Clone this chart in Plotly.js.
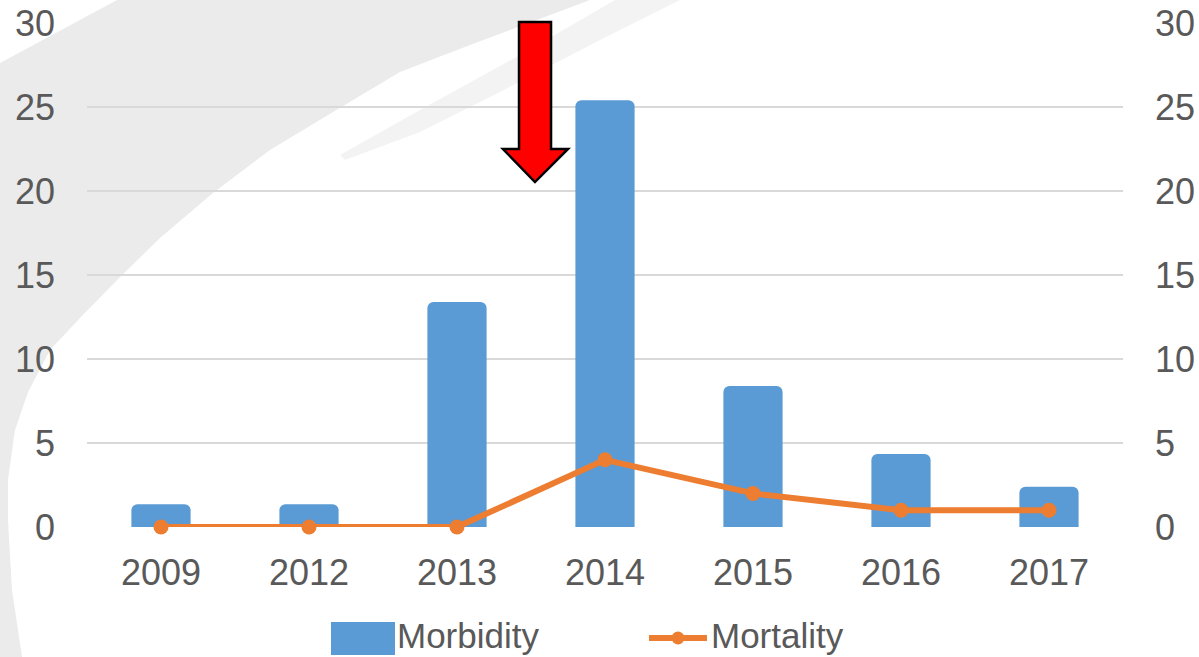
<!DOCTYPE html>
<html>
<head>
<meta charset="utf-8">
<script src="https://cdn.plot.ly/plotly-3.0.1.min.js"></script>
<style>html,body{margin:0;padding:0;background:#fff;}#chart{width:1199px;height:657px;}</style>
</head>
<body>
<div id="chart"></div>
<script>
// ---- data ----
const years = ["2009", "2012", "2013", "2014", "2015", "2016", "2017"];
const morbidity = [1.35, 1.35, 13.4, 25.4, 8.4, 4.35, 2.4];
const mortality = [0, 0, 0, 4, 2, 1, 1];
const yTicks = [0, 5, 10, 15, 20, 25, 30];
const seriesNames = ["Morbidity", "Mortality"];

// ---- layout geometry (pixels) ----
const W = 1199, H = 657;
const M = {l: 87, r: 76, t: 23, b: 130};
const PW = W - M.l - M.r, PH = H - M.t - M.b;
const fx = p => (p - M.l) / PW;
const fy = p => (H - M.b - p) / PH;
function pathFrom(pts, close) {
  return pts.map((p, i) => (i ? 'L' : 'M') + fx(p[0]).toFixed(4) + ',' + fy(p[1]).toFixed(4)).join(' ') + (close ? ' Z' : '');
}

const FONT = 'Arial, "Liberation Sans", sans-serif';
const TXT = '#595959';
const BLUE = '#5B9BD5';
const ORANGE = '#ED7D31';

// background decorative swoosh
const swooshMain = [[0,63],[117,0],[590,0],[470,45],[400,72],[333,112],[270,150],[213,193],[160,238],[120,277],[80,318],[50,350],[28,392],[15,430],[8,480],[8,520],[12,590],[22,657],[0,657]];
const swooshSecond = [[615,0],[680,0],[600,40],[500,92],[420,132],[345,160],[340,155],[420,110],[520,55]];
// arrow
const arrow = [[519,22],[551,22],[551,149],[568,149],[535,182],[503,149],[519,149]];

const shapes = [
  {type:'path', xref:'paper', yref:'paper', layer:'below', path: pathFrom(swooshMain, true), fillcolor:'#ebebeb', line:{width:0}},
  {type:'path', xref:'paper', yref:'paper', layer:'below', path: pathFrom(swooshSecond, true), fillcolor:'#f3f3f3', line:{width:0}},
  {type:'path', xref:'paper', yref:'paper', layer:'above', path: pathFrom(arrow, true), fillcolor:'#FF0000', line:{color:'#000000', width:2.5}},
  // legend: Morbidity swatch
  {type:'rect', xref:'paper', yref:'paper', x0: fx(331), x1: fx(395), y0: fy(622), y1: fy(655), fillcolor: BLUE, line:{width:0}},
  // legend: Mortality line + marker
  {type:'line', xref:'paper', yref:'paper', x0: fx(649), x1: fx(707), y0: fy(638), y1: fy(638), line:{color: ORANGE, width:6}},
  {type:'circle', xref:'paper', yref:'paper', x0: fx(671.5), x1: fx(684.5), y0: fy(631.5), y1: fy(644.5), fillcolor: ORANGE, line:{width:0}}
];

const annotations = [
  {xref:'paper', yref:'paper', x: fx(395), y: fy(635), xanchor:'left', yanchor:'middle', text: seriesNames[0], showarrow:false, font:{family:FONT, size:35, color:TXT}},
  {xref:'paper', yref:'paper', x: fx(709), y: fy(635), xanchor:'left', yanchor:'middle', text: seriesNames[1], showarrow:false, font:{family:FONT, size:35, color:TXT}}
];

const traces = [
  {type:'bar', name: seriesNames[0], x: years, y: morbidity, width: 0.4,
   marker:{color: BLUE, cornerradius: 6, line:{width:0}}, yaxis:'y', hoverinfo:'x+y'},
  {type:'scatter', mode:'lines+markers', name: seriesNames[1], x: years, y: mortality, yaxis:'y2',
   line:{color: ORANGE, width:6}, marker:{color: ORANGE, size:15}, cliponaxis:false}
];

const axisFont = {family: FONT, size: 36, color: TXT};
const layout = {
  width: W, height: H,
  margin: M,
  paper_bgcolor: '#ffffff',
  plot_bgcolor: 'rgba(0,0,0,0)',
  showlegend: false,
  font: {family: FONT, color: TXT},
  xaxis: {type:'category', tickfont: axisFont, showgrid:false, zeroline:false, showline:false, ticks:'', ticklabelstandoff: 21},
  yaxis: {range:[0,30], tickvals: yTicks, tickfont: axisFont, gridcolor:'#d9d9d9', gridwidth:1.5, zeroline:false, showline:false, ticks:'', ticklabelstandoff: 31},
  yaxis2: {range:[0,30], tickvals: yTicks, tickfont: axisFont, overlaying:'y', side:'right', showgrid:false, zeroline:false, showline:false, ticks:'', ticklabelstandoff: 31},
  shapes: shapes,
  annotations: annotations
};

Plotly.newPlot('chart', traces, layout, {displayModeBar:false, staticPlot:true});
</script>
</body>
</html>
